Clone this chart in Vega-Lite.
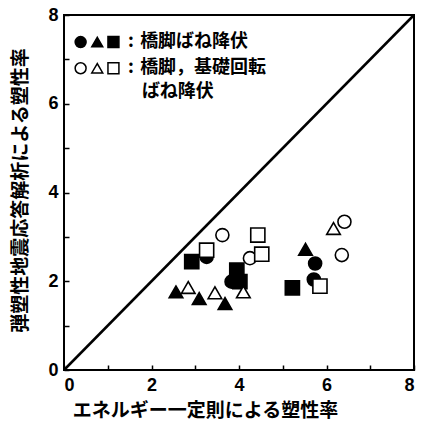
{
  "$schema": "https://vega.github.io/schema/vega-lite/v6.json",
  "autosize": "none",
  "width": 350,
  "height": 355,
  "padding": {"left": 64, "top": 15, "right": 7, "bottom": 58},
  "background": "white",
  "config": {
    "view": {"stroke": "black", "strokeWidth": 2},
    "axis": {
      "grid": false,
      "domain": false,
      "offset": -5,
      "tickColor": "black",
      "tickSize": 5,
      "tickWidth": 1.5,
      "labelColor": "black",
      "labelFont": "Liberation Sans",
      "labelFontWeight": "bold",
      "labelFontSize": 18,
      "titleColor": "black",
      "titleFont": "Noto Sans CJK JP",
      "titleFontWeight": "bold",
      "titleFontSize": 19
    }
  },
  "datasets": {
    "points": [
      {"x": 3.26, "y": 2.55, "shape": "circle", "group": "filled"},
      {"x": 3.83, "y": 1.99, "shape": "circle", "group": "filled"},
      {"x": 5.74, "y": 2.40, "shape": "circle", "group": "filled"},
      {"x": 5.71, "y": 2.04, "shape": "circle", "group": "filled"},
      {"x": 2.92, "y": 2.44, "shape": "square", "group": "filled"},
      {"x": 3.95, "y": 2.25, "shape": "square", "group": "filled"},
      {"x": 4.02, "y": 1.99, "shape": "square", "group": "filled"},
      {"x": 5.22, "y": 1.85, "shape": "square", "group": "filled"},
      {"x": 2.56, "y": 1.76, "shape": "triangle", "group": "filled"},
      {"x": 3.09, "y": 1.61, "shape": "triangle", "group": "filled"},
      {"x": 3.68, "y": 1.50, "shape": "triangle", "group": "filled"},
      {"x": 5.52, "y": 2.72, "shape": "triangle", "group": "filled"},
      {"x": 3.62, "y": 3.04, "shape": "circle", "group": "open"},
      {"x": 4.25, "y": 2.52, "shape": "circle", "group": "open"},
      {"x": 6.41, "y": 3.34, "shape": "circle", "group": "open"},
      {"x": 6.35, "y": 2.59, "shape": "circle", "group": "open"},
      {"x": 3.26, "y": 2.70, "shape": "square", "group": "open"},
      {"x": 4.43, "y": 3.04, "shape": "square", "group": "open"},
      {"x": 4.52, "y": 2.61, "shape": "square", "group": "open"},
      {"x": 5.85, "y": 1.89, "shape": "square", "group": "open"},
      {"x": 2.84, "y": 1.86, "shape": "triangle", "group": "open"},
      {"x": 3.45, "y": 1.74, "shape": "triangle", "group": "open"},
      {"x": 4.10, "y": 1.76, "shape": "triangle", "group": "open"},
      {"x": 6.16, "y": 3.19, "shape": "triangle", "group": "open"}
    ],
    "legendSymbols": [
      {"x": 0.38, "y": 7.39, "shape": "circle", "group": "filled"},
      {"x": 0.76, "y": 7.39, "shape": "triangle", "group": "filled"},
      {"x": 1.13, "y": 7.39, "shape": "square", "group": "filled"},
      {"x": 0.38, "y": 6.80, "shape": "circle", "group": "open"},
      {"x": 0.76, "y": 6.80, "shape": "triangle", "group": "open"},
      {"x": 1.13, "y": 6.80, "shape": "square", "group": "open"}
    ],
    "legendText": [
      {"x": 1.46, "y": 7.39, "label": ":"},
      {"x": 1.74, "y": 7.39, "label": "橋脚ばね降伏"},
      {"x": 1.46, "y": 6.80, "label": ":"},
      {"x": 1.74, "y": 6.80, "label": "橋脚，基礎回転"},
      {"x": 1.78, "y": 6.26, "label": "ばね降伏"}
    ],
    "diag": [{"x": 0, "y": 0, "x2": 8, "y2": 8}]
  },
  "layer": [
    {
      "data": {"name": "diag"},
      "mark": {"type": "rule", "color": "black", "strokeWidth": 2.5},
      "encoding": {
        "x": {"field": "x", "type": "quantitative", "scale": {"domain": [0, 8], "nice": false},
          "axis": {"values": [0, 1, 2, 3, 4, 5, 6, 7, 8], "labelExpr": "datum.value % 2 === 0 ? datum.label : ''", "labelPadding": 6, "title": "エネルギー一定則による塑性率", "titleX": 141, "titleY": 45, "titleBaseline": "middle", "titleAlign": "center"}},
        "y": {"field": "y", "type": "quantitative", "scale": {"domain": [0, 8], "nice": false},
          "axis": {"values": [0, 1, 2, 3, 4, 5, 6, 7, 8], "labelExpr": "datum.value % 2 === 0 ? datum.label : ''", "labelPadding": 6, "title": "弾塑性地震応答解析による塑性率", "titleX": -49, "titleY": 175, "titleBaseline": "middle", "titleAlign": "center", "titleAngle": -90}},
        "x2": {"field": "x2"},
        "y2": {"field": "y2"}
      }
    },
    {
      "data": {"name": "points"},
      "mark": {"type": "point", "filled": true, "stroke": "black", "strokeWidth": 1.6, "opacity": 1},
      "encoding": {
        "x": {"field": "x", "type": "quantitative"},
        "y": {"field": "y", "type": "quantitative"},
        "shape": {"field": "shape", "type": "nominal", "scale": {"domain": ["circle", "triangle", "square"], "range": ["circle", "triangle-up", "square"]}, "legend": null},
        "size": {"field": "shape", "type": "nominal", "scale": {"domain": ["circle", "triangle", "square"], "range": [170, 200, 170]}, "legend": null},
        "fill": {"field": "group", "type": "nominal", "scale": {"domain": ["filled", "open"], "range": ["black", "white"]}, "legend": null}
      }
    },
    {
      "data": {"name": "legendSymbols"},
      "mark": {"type": "point", "filled": true, "stroke": "black", "strokeWidth": 1.5, "opacity": 1, "size": 120},
      "encoding": {
        "x": {"field": "x", "type": "quantitative"},
        "y": {"field": "y", "type": "quantitative"},
        "shape": {"field": "shape", "type": "nominal", "legend": null},
        "fill": {"field": "group", "type": "nominal", "legend": null}
      }
    },
    {
      "data": {"name": "legendText"},
      "mark": {"type": "text", "align": "left", "baseline": "middle", "font": "Noto Sans CJK JP", "fontWeight": "bold", "fontSize": 18, "color": "black"},
      "encoding": {
        "x": {"field": "x", "type": "quantitative"},
        "y": {"field": "y", "type": "quantitative"},
        "text": {"field": "label"}
      }
    }
  ]
}
